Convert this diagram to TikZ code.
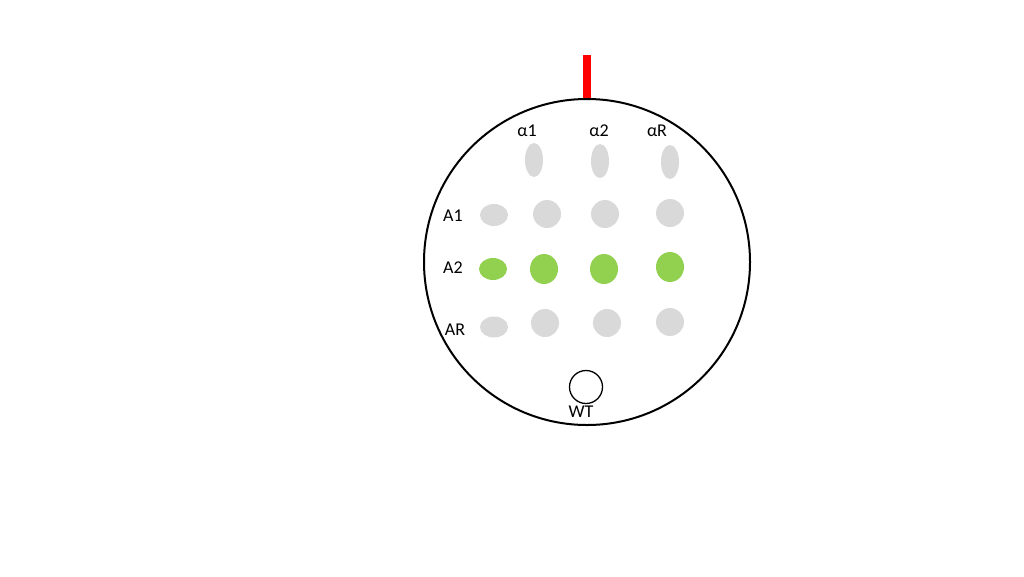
\documentclass[tikz,border=0pt]{standalone}
\usepackage{fontspec}
\setmainfont{Carlito}
\usepackage{xcolor}
\usetikzlibrary{shapes.geometric}
\definecolor{spotgray}{HTML}{D9D9D9}
\definecolor{spotgreen}{HTML}{92D050}
\tikzset{
  spot/.style={ellipse,draw=none,inner sep=0pt,minimum width=28pt,minimum height=28pt},
  tallspot/.style={spot,minimum width=18pt,minimum height=34pt},
  flatspot/.style={spot,minimum width=28pt,minimum height=22pt},
  lbl/.style={inner sep=0pt,font=\fontsize{18}{20}\selectfont}
}
\begin{document}
\begin{tikzpicture}[x=1pt,y=-1pt]
    \useasboundingbox (0,0) rectangle (1024,576);
    \node[draw=black,line width=2pt,circle,minimum size=326pt,inner sep=0pt] (plate) at (587,262) {};
    \draw[red,line width=8pt] (plate.north) -- ++(0,-43) coordinate (tip);

    \node[lbl] (la1) at (527,131) {α1};
    \node[lbl] (la2) at (599,131) {α2};
    \node[lbl] (laR) at (657,131) {αR};
    \node[lbl] (lA1) at (453,216) {A1};
    \node[lbl] (lA2) at (453,268) {A2};
    \node[lbl] (lAR) at (455,330) {AR};

    \node[tallspot,fill=spotgray] (s01) at (534,160) {};
    \node[tallspot,fill=spotgray] (s02) at (600,161) {};
    \node[tallspot,fill=spotgray] (s03) at (670,162) {};

    \node[flatspot,fill=spotgray] (s10) at (494,215) {};
    \node[spot,fill=spotgray] (s11) at (547,214) {};
    \node[spot,fill=spotgray] (s12) at (605,214) {};
    \node[spot,fill=spotgray] (s13) at (670,213) {};

    \node[flatspot,fill=spotgreen] (s20) at (493,269) {};
    \node[spot,fill=spotgreen,minimum height=30pt] (s21) at (544,269) {};
    \node[spot,fill=spotgreen,minimum height=30pt] (s22) at (604,269) {};
    \node[spot,fill=spotgreen,minimum height=30pt] (s23) at (670,267) {};

    \node[flatspot,fill=spotgray,minimum height=21pt] (s30) at (494,327) {};
    \node[spot,fill=spotgray] (s31) at (545,323) {};
    \node[spot,fill=spotgray] (s32) at (607,323) {};
    \node[spot,fill=spotgray] (s33) at (670,322) {};

    \node[draw=black,line width=1.3pt,circle,minimum size=33pt,inner sep=0pt] (wt) at (586,387) {};
    \node[lbl] (lwt) at (581,412) {WT};
  \end{tikzpicture}
\end{document}
